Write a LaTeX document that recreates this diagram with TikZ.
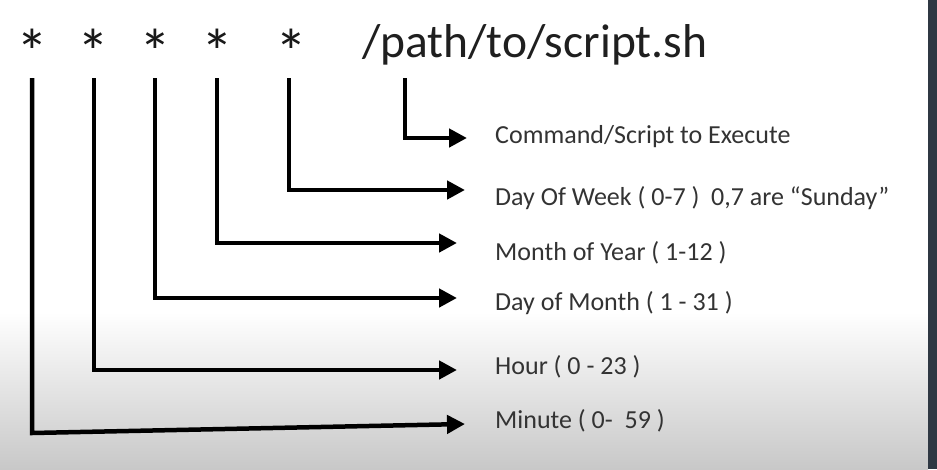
\documentclass[tikz,border=0pt]{standalone}
\usepackage{fontspec}
\setmainfont{Carlito}
\usetikzlibrary{arrows.meta}
\definecolor{txt}{HTML}{333333}
\definecolor{bar}{HTML}{2F3843}
\definecolor{bottomgray}{HTML}{C8C8C8}
\begin{document}
\begin{tikzpicture}[x=1pt,y=-1pt,
  star/.style={inner sep=0pt,font=\fontsize{64}{64}\selectfont,text=black!90},
  lbl/.style={anchor=west,inner sep=0pt,font=\fontsize{26}{26}\selectfont,text=txt},
  conn/.style={line width=4.5pt,line join=miter,-{Triangle[length=18pt,width=18pt]}}]
\useasboundingbox (0,0) rectangle (937,469);
\fill[white] (0,0) rectangle (928,469);
\shade[top color=white,bottom color=bottomgray] (0,312) rectangle (928,469);
\fill[bar] (928,0) rectangle (937,469);
% stars and path
\node[star] (s1) at (32,52) {*};
\node[star] (s2) at (93,52) {*};
\node[star] (s3) at (155,52) {*};
\node[star] (s4) at (217,52) {*};
\node[star] (s5) at (291,52) {*};
\node[anchor=base west,inner sep=0pt,font=\fontsize{47.5}{47.5}\selectfont,text=black!88] (p) at (362,57) {/path/to/script.sh};
% labels
\node[lbl] (l1) at (495,137) {Command/Script to Execute};
\node[lbl] (l2) at (495,198) {Day Of Week ( 0-7 ) \ 0,7 are “Sunday”};
\node[lbl] (l3) at (495,253) {Month of Year ( 1-12 )};
\node[lbl] (l4) at (495,303) {Day of Month ( 1 - 31 )};
\node[lbl] (l5) at (495,367) {Hour ( 0 - 23 )};
\node[lbl] (l6) at (495,421) {Minute ( 0- \ 59 )};
% line tops
\coordinate (t1) at (32,78);
\coordinate (t2) at (94,78);
\coordinate (t3) at (155,78);
\coordinate (t4) at (217,78);
\coordinate (t5) at (289,78);
\coordinate (t6) at (405,78);
\coordinate (c1) at (32,433);
% arrow ends
\coordinate (e1) at (465,424);
\coordinate (e2) at (457,370);
\coordinate (e3) at (457,298);
\coordinate (e4) at (457,243);
\coordinate (e5) at (465,190);
\coordinate (e6) at (467,138);
\draw[conn] (t1) -- (c1) -- (e1);
\draw[conn] (t2) |- (e2);
\draw[conn] (t3) |- (e3);
\draw[conn] (t4) |- (e4);
\draw[conn] (t5) |- (e5);
\draw[conn] (t6) |- (e6);
\end{tikzpicture}
\end{document}
